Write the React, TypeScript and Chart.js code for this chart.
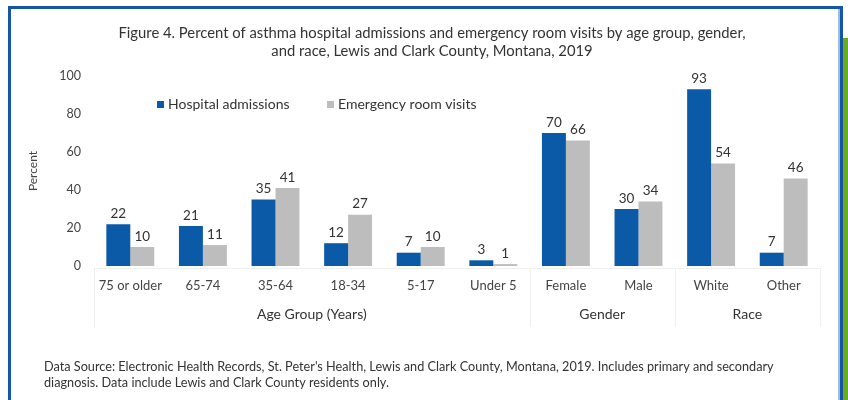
import React, { useEffect, useRef } from "react";
import { Chart, registerables } from "chart.js";

Chart.register(...registerables);

const categories = ["75 or older", "65-74", "35-64", "18-34", "5-17", "Under 5", "Female", "Male", "White", "Other"];
const hospitalAdmissions = [22, 21, 35, 12, 7, 3, 70, 30, 93, 7];
const emergencyRoomVisits = [10, 11, 41, 27, 10, 1, 66, 34, 54, 46];
const groupNames = ["Age Group (Years)", "Gender", "Race"];
const groupSizes = [6, 2, 2];
const seriesNames = ["Hospital admissions", "Emergency room visits"];
const titleLines = [
  "Figure 4. Percent of asthma hospital admissions and emergency room visits by age group, gender,",
  "and race, Lewis and Clark County, Montana, 2019",
];
const footnoteLines = [
  "Data Source: Electronic Health Records, St. Peter's Health, Lewis and Clark County, Montana, 2019. Includes primary and secondary",
  "diagnosis. Data include Lewis and Clark County residents only.",
];

const BLUE = "#0b5aa8";
const GRAY = "#bdbdbd";
const FONT = "Lato, 'Open Sans', sans-serif";

const framePlugin = {
  id: "frame",
  beforeDraw(chart: any) {
    const ctx = chart.ctx;
    ctx.save();
    ctx.fillStyle = "#ffffff";
    ctx.fillRect(0, 0, chart.width, chart.height);
    ctx.fillStyle = "#6aab1f";
    ctx.fillRect(843, 38, 5, 400);
    ctx.fillStyle = "#1656a6";
    ctx.fillRect(8, 6, 835, 3);
    ctx.fillRect(8, 6, 3, 400);
    ctx.fillRect(840, 6, 3, 400);
    ctx.fillStyle = "#9dbde0";
    ctx.fillRect(838, 9, 2, 400);
    ctx.restore();
  },
};

const textPlugin = {
  id: "texts",
  afterDraw(chart: any) {
    const ctx = chart.ctx;
    const xs = chart.scales.x;
    const area = chart.chartArea;
    ctx.save();

    ctx.fillStyle = "#333333";
    ctx.font = `14.8px ${FONT}`;
    ctx.textAlign = "center";
    ctx.textBaseline = "middle";
    titleLines.forEach((t, i) => ctx.fillText(t, 432, 33 + i * 18));

    ctx.font = `12.7px ${FONT}`;
    ctx.textAlign = "left";
    footnoteLines.forEach((t, i) => ctx.fillText(t, 44, 367 + i * 16));

    ctx.font = `14px ${FONT}`;
    const legendX = [157, 327];
    const colors = [BLUE, GRAY];
    seriesNames.forEach((name, i) => {
      ctx.fillStyle = colors[i];
      ctx.fillRect(legendX[i], 101, 7, 7);
      ctx.fillStyle = "#333333";
      ctx.fillText(name, legendX[i] + 11, 104.5);
    });

    ctx.font = `13.5px ${FONT}`;
    ctx.textAlign = "center";
    ctx.textBaseline = "bottom";
    ctx.fillStyle = "#333333";
    chart.data.datasets.forEach((ds: any, di: number) => {
      const meta = chart.getDatasetMeta(di);
      meta.data.forEach((el: any, i: number) => {
        ctx.fillText(String(ds.data[i]), el.x, el.y - 4);
      });
    });

    const n = categories.length;
    const cw = (xs.right - xs.left) / n;
    ctx.strokeStyle = "#efefef";
    ctx.lineWidth = 1;
    ctx.beginPath();
    ctx.moveTo(xs.left, area.bottom + 2.5);
    ctx.lineTo(xs.right, area.bottom + 2.5);
    let k = 0;
    const edges = [0];
    groupSizes.forEach((s) => {
      k += s;
      edges.push(k);
    });
    edges.forEach((e) => {
      const x = Math.round(xs.left + e * cw) + 0.5;
      ctx.moveTo(x, area.bottom + 2);
      ctx.lineTo(x, 327);
    });
    ctx.stroke();

    ctx.font = `14px ${FONT}`;
    ctx.fillStyle = "#333333";
    ctx.textBaseline = "middle";
    groupNames.forEach((g, gi) => {
      const a = xs.left + edges[gi] * cw;
      const b = xs.left + edges[gi + 1] * cw;
      ctx.fillText(g, (a + b) / 2, 314);
    });

    ctx.restore();
  },
};

export default function App() {
  const ref = useRef<HTMLCanvasElement | null>(null);
  useEffect(() => {
    if (!ref.current) return;
    const chart = new Chart(ref.current, {
      type: "bar",
      data: {
        labels: categories,
        datasets: [
          {
            label: seriesNames[0],
            data: hospitalAdmissions,
            backgroundColor: BLUE,
            barPercentage: 1,
            categoryPercentage: 0.66,
          },
          {
            label: seriesNames[1],
            data: emergencyRoomVisits,
            backgroundColor: GRAY,
            barPercentage: 1,
            categoryPercentage: 0.66,
          },
        ],
      },
      options: {
        animation: false,
        responsive: false,
        devicePixelRatio: 1,
        layout: { padding: { top: 76, left: 26, right: 28, bottom: 0 } },
        plugins: {
          legend: { display: false },
          title: { display: false },
          tooltip: { enabled: false },
        },
        scales: {
          x: {
            grid: { display: false, drawTicks: false },
            border: { display: false },
            ticks: {
              color: "#444444",
              font: { family: FONT, size: 13 },
              padding: 12,
              maxRotation: 0,
              autoSkip: false,
            },
            afterFit: (s: any) => {
              s.height = 134;
            },
          },
          y: {
            min: 0,
            max: 100,
            grid: { display: false, drawTicks: false },
            border: { display: false },
            ticks: {
              stepSize: 20,
              color: "#444444",
              font: { family: FONT, size: 12.5 },
              padding: 13,
            },
            title: {
              display: true,
              text: "Percent",
              color: "#444444",
              font: { family: FONT, size: 12 },
              padding: 0,
            },
            afterFit: (s: any) => {
              s.width = 68;
            },
          },
        },
      },
      plugins: [framePlugin, textPlugin],
    });
    return () => chart.destroy();
  }, []);
  return (
    <div style={{ position: "absolute", left: 0, top: 0, width: 848, height: 400 }}>
      <canvas ref={ref} width={848} height={400} style={{ width: 848, height: 400, display: "block" }} />
    </div>
  );
}
